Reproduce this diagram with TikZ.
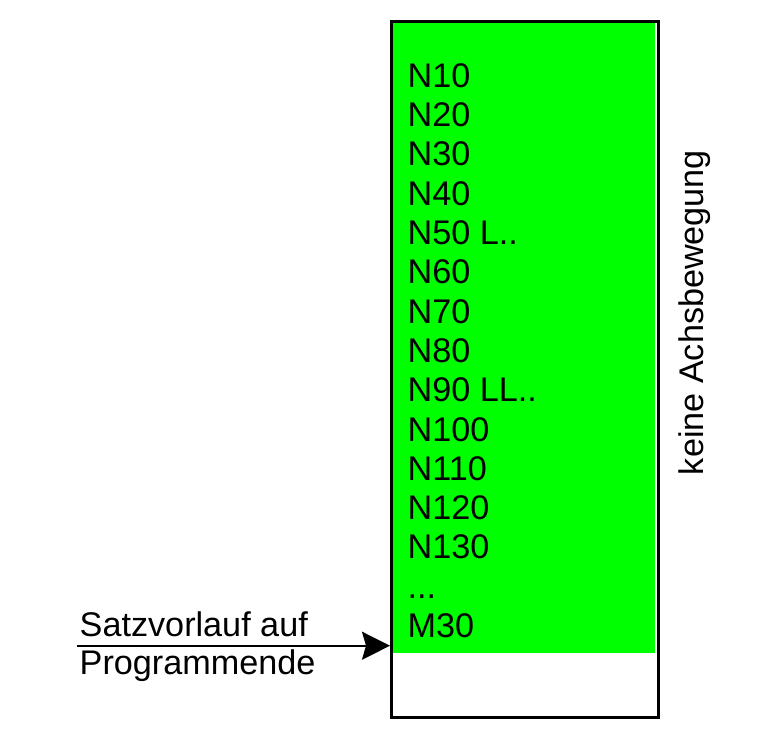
\documentclass[tikz,border=0pt]{standalone}
\usepackage{fontspec}
\setmainfont{Liberation Sans}
\usetikzlibrary{arrows.meta}
\definecolor{lime}{HTML}{00FF00}
\begin{document}
\begin{tikzpicture}[x=1pt,y=-1pt,
  txt/.style={inner sep=0pt, font=\fontsize{34.2}{39.3}\selectfont},
  line/.style={anchor=base west, txt}]
\useasboundingbox (0,0) rectangle (762,740);
% green area
\fill[lime] (391.5,21) rectangle (654.5,653);
% box
\node[draw, line width=3pt, minimum width=267pt, minimum height=696.5pt, inner sep=0pt, anchor=north west] (box) at (390,19.5) {};
% lines
\foreach \t [count=\i from 0] in {N10,N20,N30,N40,N50 L..,N60,N70,N80,N90 LL..,N100,N110,N120,N130}
  \node[line] (l\i) at (407.5,87.3+\i*39.3) {\t};
\node[line] (l13) at (407.5,87.3+13*39.3) {...};
\node[line] (l14) at (407.5,87.3+14*39.3) {M30};
% vertical label
\node[txt, anchor=base, rotate=90] (lbl) at (703,312.5) {keine Achsbewegung};
% arrow
\coordinate (start) at (76.7,645.7);
\draw[line width=2pt, -{Stealth[length=28pt, width=28pt, inset=4pt]}] (start) -- (box.west |- start);
\node[line] (s1) at (79.5,636.7) {Satzvorlauf auf};
\node[line] (s2) at (79.5,674) {Programmende};
\end{tikzpicture}
\end{document}
